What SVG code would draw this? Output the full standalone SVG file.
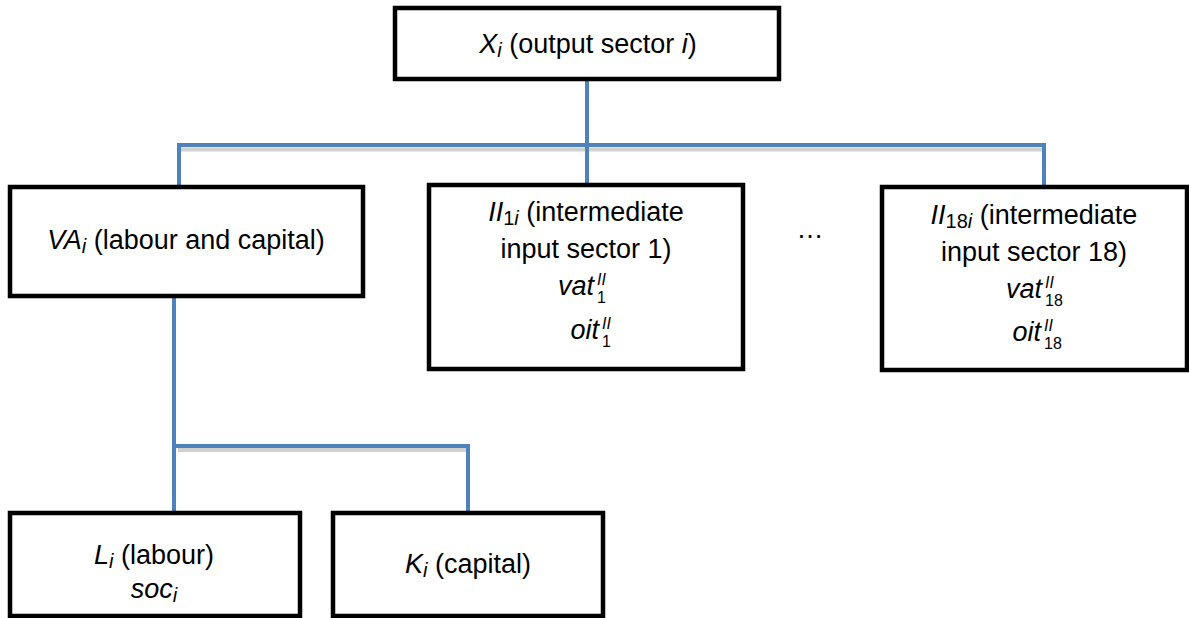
<svg xmlns="http://www.w3.org/2000/svg" width="1189" height="618" viewBox="0 0 1189 618">
<style>
.box{fill:#fff;stroke:#000;stroke-width:4.5}
.conn{fill:none;stroke:#4F81BD;stroke-width:4}
.shadow{fill:none;stroke:#D0D0D0;stroke-width:4}
.t{font-family:"Liberation Sans",Arial,sans-serif;font-size:27px;fill:#000}
.s{font-family:"Liberation Sans",Arial,sans-serif;font-size:16px;fill:#000}
.it{font-style:italic}
</style>
<rect width="1189" height="618" fill="#fff"/>
<g id="connectors">
<line class="shadow" x1="181" y1="149.5" x2="1042" y2="149.5"/>
<line class="shadow" x1="178" y1="450" x2="466" y2="450"/>
<path class="conn" d="M179,188 L179,145 L1044,145 L1044,188"/>
<path class="conn" d="M587,80 L587,186"/>
<path class="conn" d="M174,296 L174,514"/>
<path class="conn" d="M176,446 L468,446 L468,514"/>
</g>
<g id="node-x">
<rect class="box" x="395" y="8" width="384" height="71"/>
<text class="t" x="588" y="53" text-anchor="middle"><tspan class="it">X</tspan><tspan class="it" font-size="20" dy="4">i</tspan><tspan dy="-4"> (output sector </tspan><tspan class="it">i</tspan>)</text>
</g>
<g id="node-va">
<rect class="box" x="10" y="187" width="353" height="109"/>
<text class="t" x="186" y="249" text-anchor="middle"><tspan class="it">VA</tspan><tspan class="it" font-size="20" dy="4">i</tspan><tspan dy="-4"> (labour and capital)</tspan></text>
</g>
<g id="node-ii1">
<rect class="box" x="429" y="185" width="314" height="184"/>
<text class="t" x="586" y="221" text-anchor="middle"><tspan class="it">II</tspan><tspan font-size="20" dy="4">1</tspan><tspan class="it" font-size="20">i</tspan><tspan dy="-4"> (intermediate</tspan></text>
<text class="t" x="586" y="258" text-anchor="middle">input sector 1)</text>
<text class="t it" x="594" y="295" text-anchor="end">vat</text>
<text class="s it" x="597" y="285">II</text>
<text class="s" x="597" y="303">1</text>
<text class="t it" x="599" y="339" text-anchor="end">oit</text>
<text class="s it" x="602" y="329">II</text>
<text class="s" x="602" y="347">1</text>
</g>
<text id="ellipsis" class="t" x="810" y="238" font-size="20" text-anchor="middle">…</text>
<g id="node-ii18">
<rect class="box" x="882" y="187" width="305" height="183"/>
<text class="t" x="1034" y="224" text-anchor="middle"><tspan class="it">II</tspan><tspan font-size="20" dy="4">18</tspan><tspan class="it" font-size="20">i</tspan><tspan dy="-4"> (intermediate</tspan></text>
<text class="t" x="1034" y="261" text-anchor="middle">input sector 18)</text>
<text class="t it" x="1042" y="298" text-anchor="end">vat</text>
<text class="s it" x="1045" y="288">II</text>
<text class="s" x="1045" y="306">18</text>
<text class="t it" x="1041" y="341" text-anchor="end">oit</text>
<text class="s it" x="1044" y="331">II</text>
<text class="s" x="1044" y="349">18</text>
</g>
<g id="node-l">
<rect class="box" x="10" y="513" width="290" height="103"/>
<text class="t" x="154" y="564" text-anchor="middle"><tspan class="it">L</tspan><tspan class="it" font-size="20" dy="4">i</tspan><tspan dy="-4"> (labour)</tspan></text>
<text class="t" x="154" y="598" text-anchor="middle"><tspan class="it">soc</tspan><tspan class="it" font-size="20" dy="4">i</tspan></text>
</g>
<g id="node-k">
<rect class="box" x="333" y="513" width="270" height="103"/>
<text class="t" x="468" y="573" text-anchor="middle"><tspan class="it">K</tspan><tspan class="it" font-size="20" dy="4">i</tspan><tspan dy="-4"> (capital)</tspan></text>
</g>
</svg>
